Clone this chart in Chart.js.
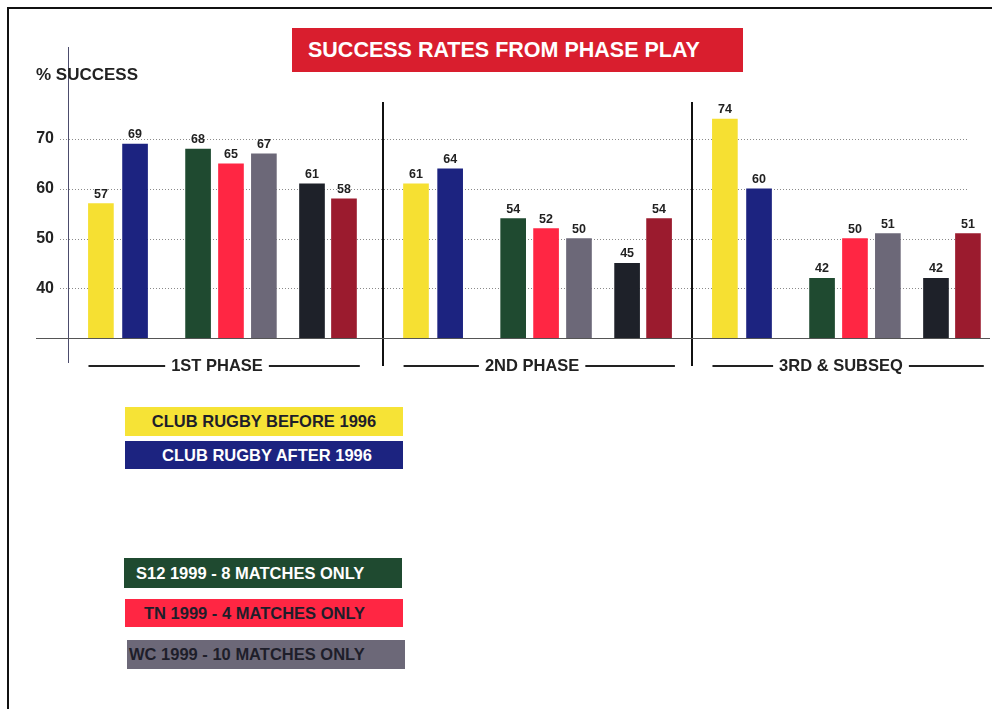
<!DOCTYPE html>
<html>
<head>
<meta charset="utf-8">
<script src="https://cdn.jsdelivr.net/npm/chart.js@4.4.0/dist/chart.umd.min.js"></script>
<style>
  html, body { margin: 0; padding: 0; background: #fff; }
  body { width: 992px; height: 709px; position: relative; overflow: hidden;
         font-family: "Liberation Sans", Arial, sans-serif; font-weight: bold; }
  #wrap { position: absolute; left: 0; top: 0; width: 992px; height: 709px; }
  .frame { position: absolute; left: 7px; top: 7px; width: 1000px; height: 720px;
           border: 2px solid #111; }
  .title { position: absolute; left: 292px; top: 28px; width: 451px; height: 44px;
           background: #d91e2e; color: #fff; font-size: 21.5px; line-height: 44px;
           padding-left: 16px; box-sizing: border-box; white-space: nowrap; }
  .ylab { position: absolute; left: 36px; top: 65px; font-size: 17px; color: #222; }
  .leg { position: absolute; width: 278px; height: 29px; font-size: 16.5px;
         line-height: 29px; box-sizing: border-box; white-space: nowrap; }
</style>
</head>
<body>
<div class="frame"></div>
<div id="wrap"><canvas id="chart" width="992" height="709"></canvas></div>
<div class="title">SUCCESS RATES FROM PHASE PLAY</div>
<div class="ylab">% SUCCESS</div>
<div class="leg" style="left:125px;top:407px;background:#f6e336;color:#1e1e2a;text-align:center;">CLUB RUGBY BEFORE 1996</div>
<div class="leg" style="left:125px;top:441px;height:28px;line-height:28px;background:#1c2380;color:#fff;text-align:center;padding-left:6px;">CLUB RUGBY AFTER 1996</div>
<div class="leg" style="left:124px;top:558px;height:30px;line-height:30px;background:#1f4a30;color:#fff;padding-left:12px;">S12 1999 - 8 MATCHES ONLY</div>
<div class="leg" style="left:125px;top:599px;height:28px;line-height:28px;background:#ff2643;color:#1e1e2a;padding-left:19px;">TN 1999 - 4 MATCHES ONLY</div>
<div class="leg" style="left:127px;top:640px;background:#6c6878;color:#1e1e2a;padding-left:2px;">WC 1999 - 10 MATCHES ONLY</div>
<script>
// phases on the x axis
var phases = ['1ST PHASE', '2ND PHASE', '3RD & SUBSEQ'];

// success rates (%) per phase
var clubBefore = [57, 61, 74];
var clubAfter  = [69, 64, 60];
var s12        = [68, 54, 42];
var tn         = [65, 52, 50];
var wc         = [67, 50, 51];
var blackSer   = [61, 45, 42];
var maroonSer  = [58, 54, 51];

var yTicks = [40, 50, 60, 70];

// layout: where each phase block starts, and where each bar sits inside it
var groupStart = [0, 1.015, 2.01];
var slot = [0.106, 0.216, 0.419, 0.525, 0.631, 0.786, 0.889];

var series = [
  { name: 'CLUB RUGBY BEFORE 1996', vals: clubBefore, color: '#f6e032' },
  { name: 'CLUB RUGBY AFTER 1996', vals: clubAfter, color: '#1c2380' },
  { name: 'S12 1999 - 8 MATCHES ONLY', vals: s12, color: '#1f4a30' },
  { name: 'TN 1999 - 4 MATCHES ONLY', vals: tn, color: '#ff2643' },
  { name: 'WC 1999 - 10 MATCHES ONLY', vals: wc, color: '#6c6878' },
  { name: 'OTHER A', vals: blackSer, color: '#1e2129' },
  { name: 'OTHER B', vals: maroonSer, color: '#9b1b2e' }
];

var datasets = [];
series.forEach(function(s, i){
  var pts = [];
  s.vals.forEach(function(v, g){
    pts.push({ x: groupStart[g] + slot[i], y: v });
  });
  datasets.push({
    label: s.name,
    data: pts,
    backgroundColor: s.color,
    borderWidth: 0,
    grouped: false,
    barPercentage: 1,
    categoryPercentage: 1,
    maxBarThickness: 25
  });
});

var decor = {
  id: 'decor',
  beforeDatasetsDraw: function(chart){
    var ctx = chart.ctx, x = chart.scales.x, y = chart.scales.y;
    ctx.save();
    // dotted gridlines
    ctx.strokeStyle = '#8a8a8a';
    ctx.lineWidth = 1;
    ctx.setLineDash([1, 2]);
    yTicks.forEach(function(t){
      var py = Math.round(y.getPixelForValue(t)) + 0.5;
      ctx.beginPath(); ctx.moveTo(60, py); ctx.lineTo(967, py); ctx.stroke();
    });
    ctx.setLineDash([]);
    // y axis line
    ctx.strokeStyle = '#4c4c6c';
    ctx.beginPath(); ctx.moveTo(68.5, chart.chartArea.top); ctx.lineTo(68.5, 363); ctx.stroke();
    // separators
    ctx.strokeStyle = '#111';
    ctx.lineWidth = 2;
    [groupStart[1], groupStart[2]].forEach(function(g){
      var px = Math.round(x.getPixelForValue(g));
      ctx.beginPath(); ctx.moveTo(px, 102); ctx.lineTo(px, 366); ctx.stroke();
    });
    ctx.restore();
  },
  afterDatasetsDraw: function(chart){
    var ctx = chart.ctx, x = chart.scales.x, y = chart.scales.y;
    ctx.save();
    // baseline
    var by = Math.round(y.getPixelForValue(30)) + 0.5;
    ctx.strokeStyle = '#555';
    ctx.lineWidth = 1;
    ctx.beginPath(); ctx.moveTo(36, by); ctx.lineTo(990, by); ctx.stroke();
    // value labels
    ctx.fillStyle = '#222';
    ctx.font = 'bold 12.5px "Liberation Sans", Arial';
    ctx.textAlign = 'center';
    ctx.textBaseline = 'alphabetic';
    chart.data.datasets.forEach(function(ds, i){
      chart.getDatasetMeta(i).data.forEach(function(bar, j){
        ctx.fillText(ds.data[j].y, bar.x, bar.y - 6);
      });
    });
    // phase labels with rules
    ctx.font = 'bold 16.5px "Liberation Sans", Arial';
    ctx.textBaseline = 'middle';
    ctx.strokeStyle = '#222';
    ctx.lineWidth = 2;
    phases.forEach(function(p, g){
      var cx = x.getPixelForValue(groupStart[g] + 0.48);
      var l = x.getPixelForValue(groupStart[g] + 0.066);
      var r = x.getPixelForValue(groupStart[g] + 0.94);
      var w = ctx.measureText(p).width;
      var ly = 366;
      ctx.fillText(p, cx, ly);
      ctx.beginPath();
      ctx.moveTo(l, ly); ctx.lineTo(cx - w / 2 - 6, ly);
      ctx.moveTo(cx + w / 2 + 6, ly); ctx.lineTo(r, ly);
      ctx.stroke();
    });
    ctx.restore();
  }
};

var ctx0 = document.getElementById('chart').getContext('2d');
var chart = new Chart(ctx0, {
  type: 'bar',
  data: { datasets: datasets },
  options: {
    animation: false,
    responsive: false,
    maintainAspectRatio: false,
    layout: { padding: { top: 47, bottom: 371, left: 0, right: 2 } },
    plugins: { legend: { display: false }, tooltip: { enabled: false } },
    scales: {
      x: { type: 'linear', min: 0, max: 2.97, offset: false, display: false },
      y: {
        min: 30,
        max: 88.5,
        afterBuildTicks: function(axis){
          axis.ticks = yTicks.map(function(v){ return { value: v }; });
        },
        afterFit: function(axis){ axis.width = 68; },
        border: { display: false },
        grid: { display: false, drawTicks: false },
        ticks: {
          padding: 14,
          color: '#222',
          font: { size: 16, weight: 'bold', family: '"Liberation Sans", Arial' }
        }
      }
    }
  },
  plugins: [decor]
});
</script>
</body>
</html>
